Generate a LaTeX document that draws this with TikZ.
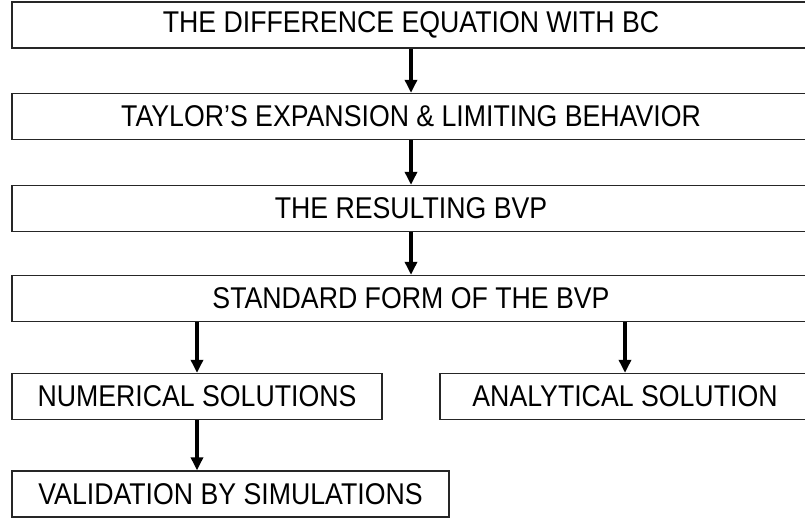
\documentclass[tikz,border=0pt]{standalone}
\usepackage{fontspec}
\setmainfont{Liberation Sans}[FakeStretch=0.89]
\usetikzlibrary{calc, positioning, arrows.meta}
\tikzstyle{block}=[draw=black!85, line width=1.4pt, rectangle, minimum height=46pt, inner sep=0pt, font=\fontsize{30}{36}\selectfont]
\tikzstyle{wide block}=[block, minimum width=798pt]
\tikzstyle{half block}=[block, minimum width=370pt]
\tikzstyle{flow}=[line width=4pt, -{Triangle[length=13pt,width=12pt]}]

\begin{document}
\begin{tikzpicture}[x=1pt, y=-1pt]
		\useasboundingbox (0,0) rectangle (805,517);
		\clip (0,0) rectangle (805,517);
		% Main chain of steps
		\node[wide block] (diff) at (411, 25) {THE DIFFERENCE EQUATION WITH BC};
		\node[wide block] (taylor) at (411, 116.5) {TAYLOR'S EXPANSION \& LIMITING BEHAVIOR};
		\node[wide block] (bvp) at (411, 208.5) {THE RESULTING BVP};
		\node[wide block] (std) at (411, 298.5) {STANDARD FORM OF THE BVP};

		% The two branches
		\node[half block] (num) at (197, 396.5) {NUMERICAL SOLUTIONS};
		\node[half block] (ana) at (625, 396.5) {ANALYTICAL SOLUTION};
		\node[block, minimum width=437pt] (val) at (230.5, 494) {VALIDATION BY SIMULATIONS};

		% Arrows down the chain
		\foreach \source / \dest in {diff/taylor, taylor/bvp, bvp/std}
		\draw[flow] (\source) -- (\dest);

		\draw[flow] (std.south -| num.north) -- (num.north);
		\draw[flow] (std.south -| ana.north) -- (ana.north);
		\draw[flow] (num.south) -- (num.south |- val.north);
	\end{tikzpicture}
\end{document}
